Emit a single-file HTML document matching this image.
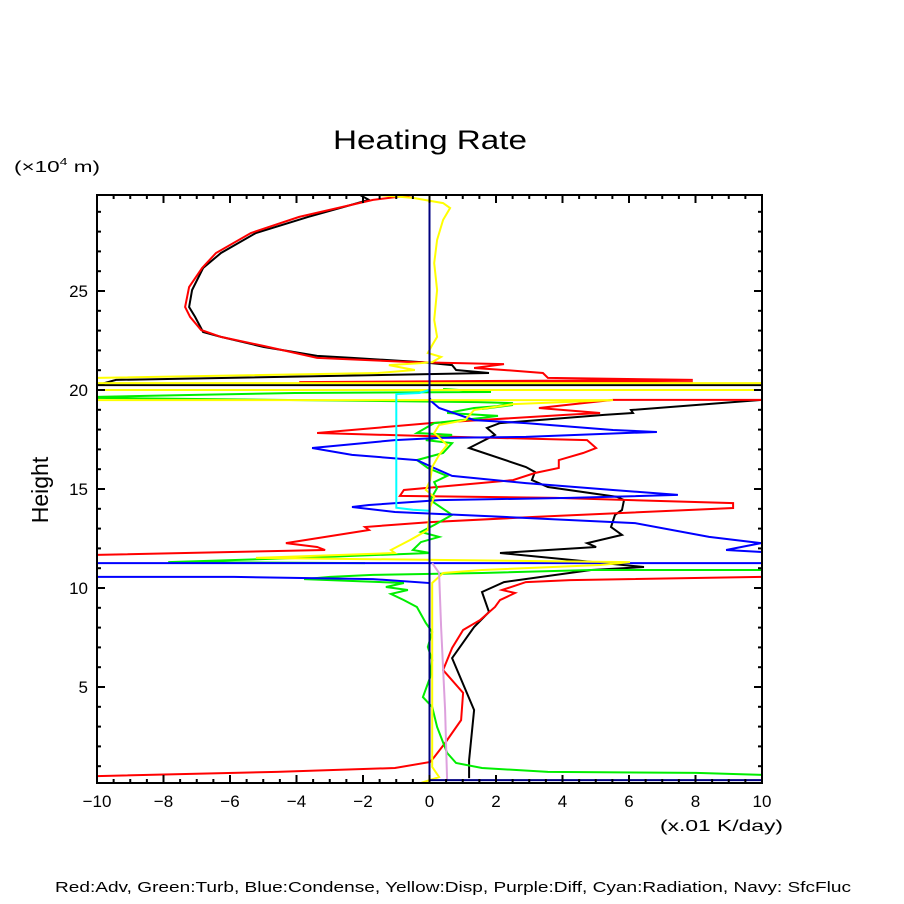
<!DOCTYPE html>
<html><head><meta charset="utf-8"><style>
html,body{margin:0;padding:0;background:#fff;}
svg{display:block;font-family:"Liberation Sans","DejaVu Sans",sans-serif;}
</style></head><body>
<svg id="chart" width="904" height="904" viewBox="0 0 904 904" xmlns="http://www.w3.org/2000/svg">
<rect x="0" y="0" width="904" height="904" fill="#fff"/>
<text x="333" y="149" font-size="27" textLength="194" lengthAdjust="spacingAndGlyphs" fill="#000">Heating Rate</text>
<text x="14" y="172" font-size="16" fill="#000" textLength="86" lengthAdjust="spacingAndGlyphs">(×10<tspan font-size="10" dy="-7">4</tspan><tspan dy="7"> m)</tspan></text>
<text x="48" y="490" font-size="23" text-anchor="middle" fill="#000" transform="rotate(-90 48 490)">Height</text>
<text x="660" y="831" font-size="16" fill="#000" textLength="123" lengthAdjust="spacingAndGlyphs">(x.01 K/day)</text>
<text x="55" y="892" font-size="15" fill="#000" textLength="796" lengthAdjust="spacingAndGlyphs">Red:Adv, Green:Turb, Blue:Condense, Yellow:Disp, Purple:Diff, Cyan:Radiation, Navy: SfcFluc</text>
<g id="series"></g>
<g id="axes"></g>
</svg>
<script>
const xTicks=[-10,-8,-6,-4,-2,0,2,4,6,8,10];
const yTicks=[5,10,15,20,25];
const seriesNames=['total','adv','turb','condense','disp','radiation','diff','sfcfluc'];
const seriesColors=['#000000','#ff0000','#00ee00','#0000ff','#ffff00','#00ffff','#dda0dd','#000080'];
const totalVals=[[-2.09,29.85],[-1.82,29.6],[-3.65,28.74],[-5.22,27.93],[-6.27,26.92],[-6.81,26.16],[-7.14,25.05],[-7.23,24.19],[-7.05,23.69],[-6.81,22.93],[-6.27,22.68],[-4.98,22.17],[-3.38,21.72],[-2.33,21.62],[-0.26,21.41],[0.68,21.26],[0.80,21.01],[1.79,20.86],[-9.43,20.51],[-10,20.25],[10,20.25],[10,19.5],[6.06,18.99],[6.12,18.84],[5.25,18.74],[2.12,18.33],[1.73,18.08],[1.97,17.73],[1.19,17.07],[2.90,16.11],[3.17,15.86],[3.08,15.45],[3.56,15.1],[5.64,14.6],[5.85,14.44],[5.79,13.94],[5.58,13.69],[5.46,13.08],[5.79,12.68],[4.74,12.27],[5.01,12.07],[2.12,11.77],[6.45,11.06],[4.86,10.91],[2.24,10.3],[1.58,9.8],[1.79,8.79],[1.34,8.03],[0.68,6.46],[1.34,3.84],[1.19,1.31],[1.19,0.4]];
const advVals=[[-0.5,29.85],[-1.7,29.6],[-3.92,28.74],[-5.37,27.93],[-6.42,26.92],[-6.84,26.16],[-7.23,25.2],[-7.35,24.19],[-7.2,23.69],[-6.87,23.03],[-6.27,22.68],[-4.98,22.22],[-3.38,21.62],[-0.5,21.41],[2.24,21.31],[1.34,21.11],[2.24,21.01],[3.41,20.86],[3.56,20.61],[7.92,20.51],[-3.92,20.4],[7.92,20.4],null,[10,19.5],[5.52,19.5],[4.62,19.34],[3.29,19.09],[5.13,18.84],[4.08,18.74],[0.02,18.33],[-3.38,17.83],[0.80,17.63],[4.74,17.47],[5.01,17.07],[4.62,16.82],[3.89,16.46],[3.89,16.06],[3.17,15.81],[2.51,15.45],[-0.77,14.95],[-0.89,14.65],[3.80,14.55],[9.13,14.29],[9.13,14.04],[3.17,13.59],[0.02,13.33],[-1.94,13.08],[-1.82,12.93],[-4.32,12.27],[-3.38,12.07],[-3.14,11.92],[-10,11.67],null,[10,10.56],[4.23,10.4],[2.90,10.3],[2.18,9.9],[2.57,9.75],[2.12,9.39],[1.97,9.04],[1.52,8.38],[1.01,7.88],[0.68,6.97],[0.41,5.86],[1.01,4.7],[0.95,3.33],[0.47,2.17],[0.14,1.46],[0.02,1.21],[-1.04,0.91],[-4.59,0.71],[-10,0.5]];
const turbVals=[[0.41,20.05],[1.85,19.9],[-4.05,19.85],[-7.05,19.75],[-10,19.65],[-10,19.6],[1.46,19.39],[2.51,19.34],[1.58,19.04],[2.51,19.24],[1.34,19.09],[0.53,18.84],[2.06,18.69],[1.58,18.59],[0.14,18.33],[-0.38,17.83],[0.68,17.73],[-0.11,17.47],[0.68,17.32],[0.41,16.82],[-0.38,16.46],[-0.05,16.06],[0.53,15.66],[0.14,15.35],[0.23,15.05],[0.02,14.44],[0.68,13.69],[0.14,13.18],[-0.26,12.83],[0.29,12.58],[-0.26,12.32],[-0.5,11.92],[0.02,11.77],[-3.92,11.52],[-7.86,11.31],[-1.94,11.26],null,[10,10.91],[4.86,10.91],[1.58,10.76],[-1.70,10.66],[-2.99,10.56],[-3.77,10.45],[-2.21,10.35],[-0.77,10.25],[-1.31,10.05],[-0.65,9.9],[-1.16,9.7],[-0.77,9.39],[-0.38,9.04],[-0.11,8.23],[0.08,7.78],[-0.05,7.02],[0.08,6.36],[0.02,5.5],[-0.2,4.49],[0.08,3.99],[0.23,2.98],[0.53,1.67],[0.80,1.16],[1.58,0.91],[3.56,0.71],[8.02,0.66],[10,0.56],null,[-10,0.15],[10,0.15]];
const condenseVals=[[0,29.85],[0,19.6],[0.08,19.39],[0.29,19.09],[1.34,18.48],[2.90,18.33],[5.52,17.98],[6.84,17.88],[5.91,17.83],[2.90,17.63],[0.29,17.58],[-1.04,17.47],[-3.53,17.07],[-2.33,16.72],[-0.38,16.46],[0.14,16.06],[0.68,15.66],[2.90,15.3],[5.52,14.95],[7.47,14.7],[4.23,14.55],[0.29,14.44],[-1.82,14.19],[-2.33,14.09],[-1.04,13.84],[2.24,13.59],[6.18,13.28],[8.41,12.58],[9.97,12.27],[8.92,11.92],[10,11.82],[10,11.26],[-10,11.26],[-10,10.56],[-5.88,10.56],[-1.70,10.45],[0,10.25],[0,0.3]];
const dispVals=[[-1.55,29.85],[-0.5,29.7],[0.41,29.44],[0.62,29.19],[0.41,28.59],[0.23,27.58],[0.14,26.41],[0.23,25.05],[0.14,23.54],[0.23,22.68],[0.08,22.27],[-0.05,21.87],[0.35,21.67],[0.08,21.41],[-0.26,21.36],[-1.22,21.26],[-0.77,21.11],[-0.44,21.01],[-1.55,20.86],[-10,20.61],null,[-10,20.35],[10,20.35],null,[-10,20.0],[10,20.0],null,[-10,19.49],[5.52,19.49],[2.51,19.29],[1.34,18.99],[1.07,18.48],[0.29,18.23],[0.14,17.83],[0.53,17.22],[0.29,16.72],[0.08,16.11],[0.02,15.45],[-0.11,14.95],[0.14,14.6],[0.02,14.09],[-0.05,12.93],[-0.59,12.42],[-1.16,11.92],[-1.04,11.77],[-5.22,11.52],[6.03,11.31],[5.13,11.16],[1.58,10.91],[0.41,10.76],[0.08,10.25],[0.08,0.96],[0.29,0.45],[-0.26,0.15],[-1.04,0.15]];
const radiationVals=[[0,20.0],[-0.3,19.85],[-1.0,19.8],[-1.0,14.05],[-0.5,13.95],[0,13.9]];
const diffVals=[[0.08,11.26],[0.29,10.76],[0.35,8.03],[0.47,3.84],[0.53,0.3]];
const sfcflucVals=[[0,29.85],[0,0.3],[10,0.3]];
const allVals=[totalVals,advVals,turbVals,condenseVals,dispVals,radiationVals,diffVals,sfcflucVals];

const L=97,R=762,T=195,B=783;
function xs(v){return L+(v+10)*(R-L)/20;}
function ys(h){return 786-h*19.8;}
const NS='http://www.w3.org/2000/svg';
const sg=document.getElementById('series');
const cp=document.createElementNS(NS,'clipPath');cp.setAttribute('id','pc');
const cr=document.createElementNS(NS,'rect');cr.setAttribute('x',L);cr.setAttribute('y',T);cr.setAttribute('width',R-L);cr.setAttribute('height',B-T);
cp.appendChild(cr);sg.appendChild(cp);
sg.setAttribute('clip-path','url(#pc)');
allVals.forEach((vals,i)=>{
  let d='',pen=false;
  vals.forEach(p=>{
    if(p===null){pen=false;return;}
    d+=(pen?'L':'M')+xs(p[0]).toFixed(1)+' '+ys(p[1]).toFixed(1)+' ';pen=true;
  });
  const path=document.createElementNS(NS,'path');
  path.setAttribute('d',d);path.setAttribute('fill','none');
  path.setAttribute('stroke',seriesColors[i]);path.setAttribute('stroke-width','2');
  
  
  sg.appendChild(path);
});
const ag=document.getElementById('axes');
function line(x1,y1,x2,y2,w){const l=document.createElementNS(NS,'line');l.setAttribute('x1',x1);l.setAttribute('y1',y1);l.setAttribute('x2',x2);l.setAttribute('y2',y2);l.setAttribute('stroke','#000');l.setAttribute('stroke-width',w);ag.appendChild(l);return l;}
const fr=document.createElementNS(NS,'rect');
fr.setAttribute('x',L);fr.setAttribute('y',T);fr.setAttribute('width',R-L);fr.setAttribute('height',B-T);
fr.setAttribute('fill','none');fr.setAttribute('stroke','#000');fr.setAttribute('stroke-width','2');


ag.appendChild(fr);
for(let v=-10;v<=10.001;v+=0.5){
  const major=Math.abs(v/2-Math.round(v/2))<1e-6;const len=major?8:4;const x=xs(v);
  line(x,B,x,B-len,2);line(x,T,x,T+len,2);
}
for(let h=1;h<=29;h++){
  const major=h%5===0;const len=major?8:4;const y=ys(h);
  line(L,y,L+len,y,2);line(R,y,R-len,y,2);
}
xTicks.forEach(v=>{
  const t=document.createElementNS(NS,'text');
  t.setAttribute('x',xs(v));t.setAttribute('y',807);t.setAttribute('font-size','17');t.setAttribute('text-anchor','middle');
  t.textContent=(v<0?'\u2212':'')+Math.abs(v);
  
  
  ag.appendChild(t);
});
yTicks.forEach(h=>{
  const t=document.createElementNS(NS,'text');
  t.setAttribute('x',88);t.setAttribute('y',ys(h)+6);t.setAttribute('font-size','17');t.setAttribute('text-anchor','end');
  t.textContent=h;
  
  
  ag.appendChild(t);
});
</script>
</body></html>
